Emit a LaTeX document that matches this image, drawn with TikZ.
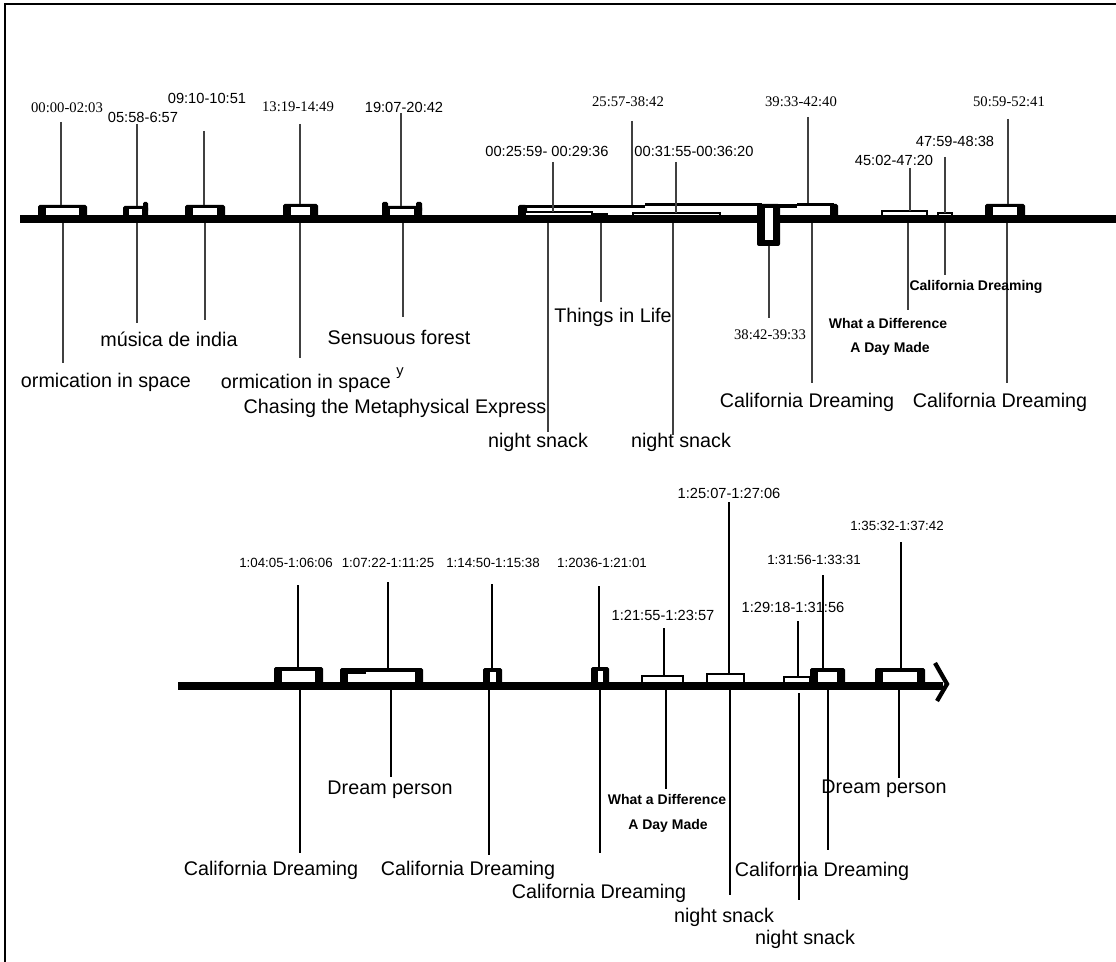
\documentclass[tikz,border=0pt]{standalone}
\usepackage{fontspec}
\setmainfont{Liberation Sans}
\newfontfamily\tsserif{Liberation Serif}
\newcommand\tlbox[5][8]{% [wall] x1 x2 ytop yline
  \fill[rounded corners=1.2pt] (#2,#4) rectangle (#3,#5);
  \fill[white] ({#2+#1},{#4+3.5}) rectangle ({#3-#1},#5);}
\newcommand\tlthin[4]{% x1 x2 ytop ybottom
  \draw[line width=1.1pt,fill=white] (#1,#4) -- (#1,#3) -- (#2,#3) -- (#2,#4);}
\tikzset{
  conn/.style={line width=0.9pt,black!75},
  connb/.style={line width=0.9pt,black},
  tline/.style={line width=6.2pt},
  big/.style={inner sep=0pt,font=\fontsize{14.8}{17}\selectfont},
  tsans/.style={inner sep=0pt,font=\fontsize{11}{13}\selectfont},
  tser/.style={inner sep=0pt,font=\tsserif\fontsize{11}{13}\selectfont},
  tmy/.style={inner sep=0pt,font=\fontsize{10}{12}\selectfont},
  bsmall/.style={inner sep=0pt,font=\bfseries\fontsize{10.5}{12}\selectfont},
}
\begin{document}
\begin{tikzpicture}[x=0.75pt,y=-0.75pt]
\useasboundingbox (0,0) rectangle (1116,962);
\fill[white] (0,0) rectangle (1116,962);
% frame
\draw[line width=1.7pt] (5,962) coordinate (fbl) -- (5,4) coordinate (ftl) -- (1116,4) coordinate (ftr);

% ================= TOP TIMELINE =================
\tlbox{38}{87}{205}{219}
\tlbox[6]{123}{148}{206}{219}
\fill[rounded corners=1pt] (143,202) rectangle (148,212);
\tlbox{185}{225}{205}{219}
\tlbox{283}{318}{204}{219}
\tlbox{382}{422}{206}{219}
\fill[rounded corners=1pt] (382,202) rectangle (388,212);
\fill[rounded corners=1pt] (416,202) rectangle (422,212);
% big box 25:57-38:42
\fill[rounded corners=1.2pt] (518,205) rectangle (527,219);
\draw[line width=2.4pt] (522,206.5) -- (645,206.5);
\draw[line width=2.4pt] (645,204.8) -- (762,204.8);
% box 39:33-42:40
\draw[line width=2.6pt] (776,205.8) -- (797,205.8);
\draw[line width=2.6pt] (797,204.6) -- (834,204.6);
\fill[rounded corners=1.2pt] (830,204) rectangle (838,219);
\tlbox{985}{1025}{204}{219}

\draw[tline] (20,219) coordinate (ta) -- (1116,219) coordinate (tb);

% thin boxes on top timeline
\tlthin{525}{592}{212}{215}
\tlthin{593}{607}{214}{215}
\tlthin{633}{720}{213}{215}
\tlthin{882}{927}{211}{215}
\tlthin{938}{952}{213}{215}
% 38:42-39:33 downward box
\fill[rounded corners=1.5pt] (757,204) rectangle (780,246);
\fill[white] (765,208) rectangle (772.5,240);

% top upper connectors
\draw[conn] (61,122) coordinate (ua1) -- (61,205) coordinate (ub1);
\draw[conn] (137,124) coordinate (ua2) -- (137,206) coordinate (ub2);
\draw[conn] (204,131) coordinate (ua3) -- (204,205) coordinate (ub3);
\draw[conn] (300,124) coordinate (ua4) -- (300,204) coordinate (ub4);
\draw[conn] (401,113) coordinate (ua5) -- (401,206) coordinate (ub5);
\draw[conn] (553,162) coordinate (ua6) -- (553,212) coordinate (ub6);
\draw[conn] (632,121) coordinate (ua7) -- (632,205) coordinate (ub7);
\draw[conn] (676,162) coordinate (ua8) -- (676,213) coordinate (ub8);
\draw[conn] (808,117) coordinate (ua9) -- (808,203) coordinate (ub9);
\draw[conn] (910,168) coordinate (ua10) -- (910,211) coordinate (ub10);
\draw[conn] (945,157) coordinate (ua11) -- (945,213) coordinate (ub11);
\draw[conn] (1008,119) coordinate (ua12) -- (1008,204) coordinate (ub12);

% top lower connectors
\draw[conn] (63,223) coordinate (la1) -- (63,363) coordinate (lb1);
\draw[conn] (137,223) coordinate (la2) -- (137,323) coordinate (lb2);
\draw[conn] (205,223) coordinate (la3) -- (205,320) coordinate (lb3);
\draw[conn] (300,223) coordinate (la4) -- (300,358) coordinate (lb4);
\draw[conn] (403,223) coordinate (la5) -- (403,317) coordinate (lb5);
\draw[conn] (548,223) coordinate (la6) -- (548,432) coordinate (lb6);
\draw[conn] (601,223) coordinate (la7) -- (601,302) coordinate (lb7);
\draw[conn] (673,223) coordinate (la8) -- (673,435) coordinate (lb8);
\draw[conn] (769,246) coordinate (la9) -- (769,318) coordinate (lb9);
\draw[conn] (812,223) coordinate (la10) -- (812,383) coordinate (lb10);
\draw[conn] (908,223) coordinate (la11) -- (908,310) coordinate (lb11);
\draw[conn] (945,223) coordinate (la12) -- (945,275) coordinate (lb12);
\draw[conn] (1007,223) coordinate (la13) -- (1007,383) coordinate (lb13);

% top labels above
\node[tser]  (t1)  at (67,108)  {00:00-02:03};
\node[tsans] (t2)  at (143,117) {05:58-6:57};
\node[tsans] (t3)  at (207,98)  {09:10-10:51};
\node[tser]  (t4)  at (298,107) {13:19-14:49};
\node[tsans] (t5)  at (404,107) {19:07-20:42};
\node[tsans] (t6)  at (547,151) {00:25:59- 00:29:36};
\node[tser]  (t7)  at (628,102) {25:57-38:42};
\node[tsans] (t8)  at (694,151) {00:31:55-00:36:20};
\node[tser]  (t9)  at (801,102) {39:33-42:40};
\node[tsans] (t10) at (894,160) {45:02-47:20};
\node[tsans] (t11) at (955,141) {47:59-48:38};
\node[tser]  (t12) at (1009,102) {50:59-52:41};

% top labels below
\node[big] (l1)  at (106,382) {ormication in space};
\node[big] (l2)  at (169,339) {música de india};
\node[big] (l3)  at (306,383) {ormication in space};
\node[tsans] (l3y) at (400,373) {y};
\node[big] (l4)  at (395,408) {Chasing the Metaphysical Express};
\node[big] (l5)  at (399,337) {Sensuous forest};
\node[big] (l6)  at (538,442) {night snack};
\node[big] (l7)  at (613,317) {Things in Life};
\node[big] (l8)  at (681,442) {night snack};
\node[tser] (l9) at (770,335) {38:42-39:33};
\node[big] (l10) at (807,402) {California Dreaming};
\node[bsmall] (l11a) at (888,323) {What a Difference};
\node[bsmall] (l11b) at (890,349) {A Day Made};
\node[bsmall] (l12) at (976,287) {California Dreaming};
\node[big] (l13) at (1000,402) {California Dreaming};

% ================= BOTTOM TIMELINE =================
\tlbox{274}{323}{667}{686}
\tlbox{340}{423}{668}{686}
\fill (340,670) rectangle (366,673.5);
\tlbox[6.5]{483}{502}{668}{686}
\tlbox[6.5]{591}{609}{667}{686}
\tlbox{810}{845}{668}{686}
\tlbox{875}{925}{668}{686}

\draw[tline] (178,686) coordinate (ba) -- (943,686) coordinate (bb);
\draw[line width=3.2pt] (935,663) coordinate (aw1) -- (947,684) coordinate (aw2) -- (937,701) coordinate (aw3);

\tlthin{642}{683}{676}{682}
\tlthin{707}{744}{674}{682}
\tlthin{784}{810}{677}{682}

% bottom upper connectors
\draw[connb] (298,585) coordinate (bu1) -- (298,667) coordinate (bv1);
\draw[connb] (388,582) coordinate (bu2) -- (388,668) coordinate (bv2);
\draw[connb] (492,584) coordinate (bu3) -- (492,668) coordinate (bv3);
\draw[connb] (599,586) coordinate (bu4) -- (599,667) coordinate (bv4);
\draw[connb] (664,628) coordinate (bu5) -- (664,676) coordinate (bv5);
\draw[connb] (729,502) coordinate (bu6) -- (729,674) coordinate (bv6);
\draw[connb] (798,621) coordinate (bu7) -- (798,677) coordinate (bv7);
\draw[connb] (823,575) coordinate (bu8) -- (823,668) coordinate (bv8);
\draw[connb] (901,542) coordinate (bu9) -- (901,668) coordinate (bv9);

% bottom lower connectors
\draw[connb] (300,690) coordinate (bl1) -- (300,853) coordinate (bm1);
\draw[connb] (391,690) coordinate (bl2) -- (391,777) coordinate (bm2);
\draw[connb] (489,690) coordinate (bl3) -- (489,855) coordinate (bm3);
\draw[connb] (600,690) coordinate (bl4) -- (600,853) coordinate (bm4);
\draw[connb] (666,690) coordinate (bl5) -- (666,789) coordinate (bm5);
\draw[connb] (730,690) coordinate (bl6) -- (730,895) coordinate (bm6);
\draw[connb] (799,693) coordinate (bl7) -- (799,900) coordinate (bm7);
\draw[connb] (828,690) coordinate (bl8) -- (828,850) coordinate (bm8);
\draw[connb] (899,690) coordinate (bl9) -- (899,778) coordinate (bm9);

% bottom labels above
\node[tmy]   (s1) at (286,563) {1:04:05-1:06:06};
\node[tmy]   (s2) at (388,563) {1:07:22-1:11:25};
\node[tmy]   (s3) at (493,563) {1:14:50-1:15:38};
\node[tmy]   (s4) at (602,563) {1:2036-1:21:01};
\node[tsans] (s5) at (663,615) {1:21:55-1:23:57};
\node[tsans] (s6) at (729,493) {1:25:07-1:27:06};
\node[tsans] (s7) at (793,607) {1:29:18-1:31:56};
\node[tmy]   (s8) at (814,560) {1:31:56-1:33:31};
\node[tmy]   (s9) at (897,526) {1:35:32-1:37:42};

% bottom labels below
\node[big] (d1) at (271,870) {California Dreaming};
\node[big] (d2) at (390,790) {Dream person};
\node[big] (d3) at (468,870) {California Dreaming};
\node[big] (d4) at (599,893) {California Dreaming};
\node[bsmall] (d5a) at (667,799) {What a Difference};
\node[bsmall] (d5b) at (668,826) {A Day Made};
\node[big] (d6) at (724,917) {night snack};
\node[big] (d7) at (805,939) {night snack};
\node[big] (d8) at (822,871) {California Dreaming};
\node[big] (d9) at (884,789) {Dream person};
\end{tikzpicture}
\end{document}
